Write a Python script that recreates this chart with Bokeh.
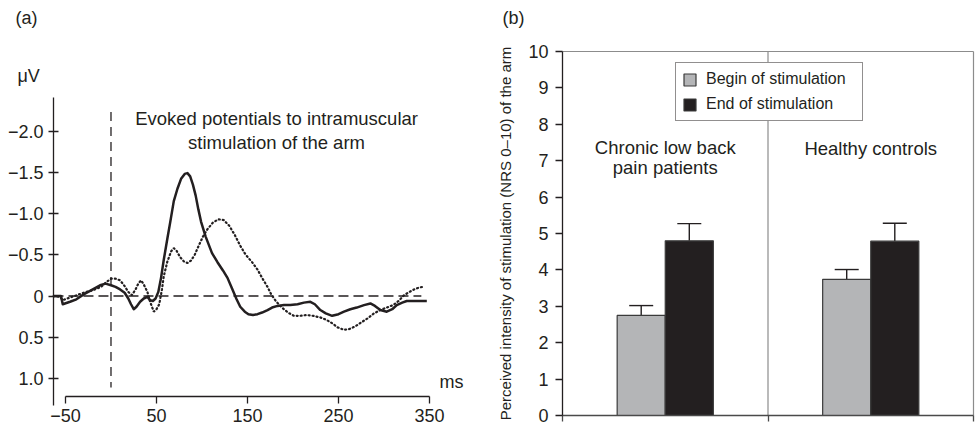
from bokeh.plotting import figure
from bokeh.models import (Range1d, FixedTicker, Label, Legend, LegendItem,
                          Whisker, TeeHead, ColumnDataSource)
from bokeh.layouts import row
from bokeh.embed import file_html
from bokeh.resources import INLINE
from bokeh.core.properties import value

FONT = "Liberation Sans"
INK = "#231f20"
GRID = "#8c8c8c"

# ---------------- Panel (a): evoked potentials ----------------
time_solid = [-63, -55, -53, -45, -38, -30, -20, -12, -6, 0, 5, 10, 15, 19, 22, 25, 28, 32,
              36, 40, 43, 46, 49, 52, 55, 58, 62, 65, 69, 73, 77, 81, 84, 87, 90, 93, 96,
              99, 104, 111, 117, 123, 128, 133, 138, 142, 147, 151, 156, 161, 166, 172,
              177, 183, 190, 197, 205, 212, 219, 224, 230, 236, 243, 250, 256, 263, 270,
              278, 285, 290, 296, 303, 309, 314, 320, 325, 335, 347]
uv_solid = [0.0, 0.0, 0.10, 0.07, 0.04, -0.02, -0.08, -0.13, -0.15, -0.13, -0.11, -0.08,
            -0.04, 0.03, 0.10, 0.16, 0.13, 0.07, 0.03, 0.01, 0.05, 0.06, 0.03, -0.05, -0.22,
            -0.44, -0.70, -0.89, -1.15, -1.30, -1.42, -1.48, -1.49, -1.45, -1.35, -1.22,
            -1.05, -0.90, -0.72, -0.52, -0.41, -0.31, -0.22, -0.09, 0.04, 0.13, 0.19, 0.22,
            0.23, 0.22, 0.20, 0.17, 0.14, 0.12, 0.11, 0.11, 0.10, 0.08, 0.07, 0.10, 0.17,
            0.21, 0.24, 0.22, 0.19, 0.16, 0.14, 0.11, 0.09, 0.12, 0.17, 0.19, 0.16, 0.11,
            0.08, 0.06, 0.06, 0.06]

time_dotted = [-63, -56, -53, -48, -40, -30, -20, -11, -5, 0, 5, 10, 15, 19, 23, 27, 30,
               33, 36, 40, 43, 47, 50, 53, 56, 58, 62, 66, 69, 72, 76, 80, 84, 88, 92, 96,
               101, 106, 112, 118, 124, 130, 136, 142, 148, 155, 161, 166, 172, 176, 181,
               186, 191, 196, 201, 208, 215, 222, 230, 237, 243, 249, 256, 262, 268, 275,
               282, 289, 296, 303, 310, 316, 322, 328, 333, 338, 342]
uv_dotted = [0.0, 0.01, 0.05, 0.03, 0.0, -0.04, -0.07, -0.11, -0.17, -0.21, -0.21, -0.19,
             -0.12, -0.05, -0.01, -0.08, -0.15, -0.19, -0.14, -0.05, 0.07, 0.19, 0.16, 0.10,
             -0.08, -0.24, -0.42, -0.54, -0.58, -0.55, -0.47, -0.42, -0.40, -0.43, -0.50,
             -0.60, -0.72, -0.81, -0.89, -0.93, -0.92, -0.85, -0.74, -0.61, -0.50, -0.41,
             -0.32, -0.22, -0.11, -0.02, 0.06, 0.12, 0.17, 0.21, 0.24, 0.24, 0.23, 0.24,
             0.26, 0.29, 0.33, 0.38, 0.41, 0.40, 0.37, 0.32, 0.27, 0.21, 0.17, 0.14, 0.11,
             0.06, -0.01, -0.05, -0.08, -0.10, -0.11]

x_ticks_a = [-50, 50, 150, 250, 350]
y_ticks_a = [-2.0, -1.5, -1.0, -0.5, 0, 0.5, 1.0]
y_labels_a = ["\u22122.0", "\u22121.5", "\u22121.0", "\u22120.5", "0", "0.5", "1.0"]
title_a = ["Evoked potentials to intramuscular", "stimulation of the arm"]
onset_ms = 0
baseline_uv = 0

# ---------------- Panel (b): perceived intensity ----------------
groups = [["Chronic low back", "pain patients"], ["Healthy controls"]]
series = ["Begin of stimulation", "End of stimulation"]
begin_mean = [2.75, 3.74]
begin_err = [0.27, 0.27]
end_mean = [4.80, 4.79]
end_err = [0.47, 0.49]
y_ticks_b = [0, 1, 2, 3, 4, 5, 6, 7, 8, 9, 10]
y_label_b = "Perceived intensity of stimulation (NRS 0\u201310) of the arm"
series_colors = ["#b4b5b7", INK]


def style_text(obj, size):
    obj.text_font = value(FONT)
    obj.text_font_size = size
    obj.text_color = INK


def add_label(p, txt, sx, sy, size="18px"):
    p.add_layout(Label(x=sx, y=sy, x_units="screen", y_units="screen", text=txt,
                       text_baseline="alphabetic", text_font=FONT, text_font_size=size,
                       text_color=INK))


def style_axis(ax):
    ax.axis_line_color = INK
    ax.axis_line_width = 1.3
    ax.major_tick_line_color = INK
    ax.major_tick_line_width = 1.3
    ax.minor_tick_line_color = None
    ax.major_label_text_font = FONT
    ax.major_label_text_font_size = "18px"
    ax.major_label_text_color = INK


# ===== Figure (a) =====
pa = figure(width=476, height=429, x_range=Range1d(-121.4, 401.6),
            y_range=Range1d(1.618, -3.582), output_backend="svg",
            toolbar_location=None, min_border=0)
pa.outline_line_color = None
pa.grid.visible = False

xa = pa.xaxis[0]
xa.ticker = FixedTicker(ticks=x_ticks_a)
xa.bounds = (x_ticks_a[0], x_ticks_a[-1])
xa.fixed_location = 1.218
ya = pa.yaxis[0]
ya.ticker = FixedTicker(ticks=y_ticks_a)
ya.major_label_overrides = dict(zip(y_ticks_a, y_labels_a))
ya.bounds = (-2.406, 1.33)
ya.fixed_location = -63.2
style_axis(xa)
style_axis(ya)
xa.major_tick_in = 0
xa.major_tick_out = 7
xa.major_label_standoff = 5
ya.major_tick_in = 5
ya.major_tick_out = 5
ya.major_label_standoff = 5

# reference dashed lines
pa.segment(x0=[onset_ms], y0=[-2.23], x1=[onset_ms], y1=[1.11],
           line_color=INK, line_width=1.3, line_dash="9 6")
pa.segment(x0=[-63.2], y0=[baseline_uv], x1=[341], y1=[baseline_uv],
           line_color=INK, line_width=1.3, line_dash="10 5")

pa.line(time_dotted, uv_dotted, line_color=INK, line_width=2.2, line_dash="1 3",
        line_cap="round")
pa.line(time_solid, uv_solid, line_color=INK, line_width=2.5, line_join="round")

t1 = pa.text(x=[181.9, 181.9], y=[-2.15, -1.86], text=title_a, text_align="center",
             text_baseline="alphabetic")
style_text(t1.glyph, "18.5px")

add_label(pa, "(a)", 15, 412)
add_label(pa, "\u03bcV", 17, 354)
add_label(pa, "ms", 439, 48)

# ===== Figure (b) =====
pb = figure(width=500, height=429, x_range=Range1d(-0.4185, 2.0146),
            y_range=Range1d(-0.3846, 11.401), output_backend="svg",
            toolbar_location=None, min_border=0)
pb.outline_line_color = None
pb.grid.visible = False

# panel frame: group separators and top border
n_groups = len(groups)
y_top = y_ticks_b[-1]
sep_x = [i + 1 for i in range(n_groups)]
pb.segment(x0=sep_x, y0=[0] * n_groups, x1=sep_x, y1=[y_top] * n_groups,
           line_color=GRID, line_width=1.2)
pb.segment(x0=[0], y0=[y_top], x1=[n_groups], y1=[y_top], line_color=GRID,
           line_width=1.2)

xb = pb.xaxis[0]
xb.ticker = FixedTicker(ticks=[0] + sep_x)
xb.major_label_overrides = {0: "", 1: "", 2: ""}
xb.fixed_location = 0
xb.bounds = (0, n_groups)
style_axis(xb)
xb.axis_line_color = "#4a4a4a"
xb.axis_line_width = 1.6
xb.major_tick_line_color = "#4a4a4a"
xb.major_tick_in = 0
xb.major_tick_out = 6

yb = pb.yaxis[0]
yb.ticker = FixedTicker(ticks=y_ticks_b)
yb.fixed_location = 0
yb.bounds = (0, y_top)
style_axis(yb)
yb.major_tick_in = 0
yb.major_tick_out = 7
yb.major_label_standoff = 7
yb.axis_label = y_label_b
yb.axis_label_text_font = FONT
yb.axis_label_text_font_size = "15px"
yb.axis_label_text_font_style = "normal"
yb.axis_label_text_color = INK
yb.axis_label_standoff = 11

bar_w = 0.234
centers = [i + 0.5 for i in range(n_groups)]
src_begin = ColumnDataSource(dict(x=[c - bar_w / 2 for c in centers], top=begin_mean,
                                  up=[m + e for m, e in zip(begin_mean, begin_err)]))
src_end = ColumnDataSource(dict(x=[c + bar_w / 2 for c in centers], top=end_mean,
                                up=[m + e for m, e in zip(end_mean, end_err)]))

legend_items = []
for src, color, name in [(src_begin, series_colors[0], series[0]),
                         (src_end, series_colors[1], series[1])]:
    w = Whisker(source=src, base="x", lower="top", upper="up", dimension="height",
                line_color=INK, line_width=1.4, lower_head=None,
                upper_head=TeeHead(size=24, line_color=INK, line_width=1.4))
    pb.add_layout(w)
    r = pb.vbar(x="x", top="top", bottom=0, width=bar_w, source=src, fill_color=color,
                line_color="#3a3a3a", line_width=1.2)
    legend_items.append(LegendItem(label=name, renderers=[r]))

legend = Legend(items=legend_items, location=(199, 308), orientation="vertical",
                glyph_width=15, glyph_height=15, label_height=20, label_width=150,
                spacing=5, padding=6, label_standoff=9, border_line_color=INK,
                border_line_width=1.2, background_fill_alpha=1, label_text_font=FONT,
                label_text_font_size="16px", label_text_color=INK, margin=0)
pb.add_layout(legend)

for c, lines, base_y in zip(centers, groups, [7.36, 7.34]):
    ys = [base_y - k * 0.54 for k in range(len(lines))]
    tg = pb.text(x=[c] * len(lines), y=ys, text=lines, text_align="center",
                 text_baseline="alphabetic")
    style_text(tg.glyph, "18.5px")

add_label(pb, "(b)", 26, 412)

layout = row(pa, pb, spacing=0)
with open("out.html", "w") as f:
    f.write(file_html(layout, INLINE))
